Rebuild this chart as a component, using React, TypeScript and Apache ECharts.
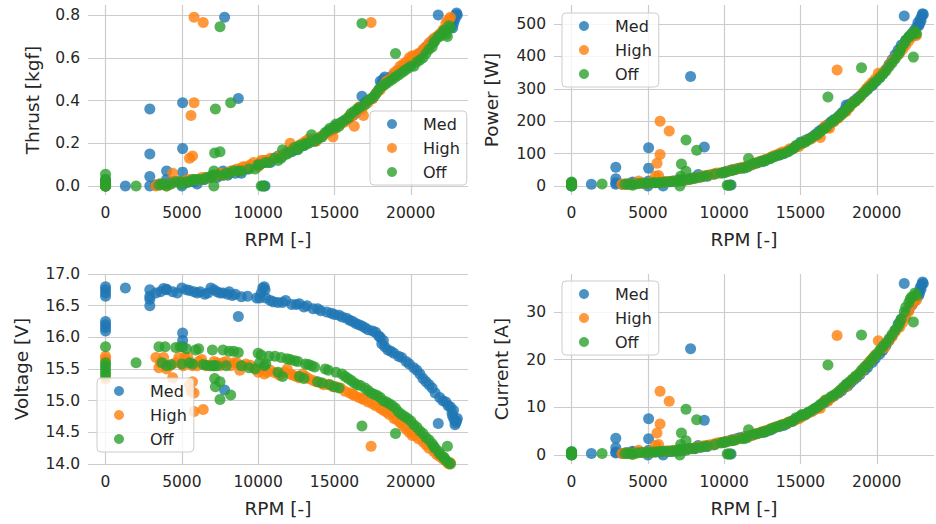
import React, { useEffect, useRef } from "react";
import * as echarts from "echarts";

// ---------- Data ----------
// each row: [RPM, thrust kgf, power W, voltage V, current A]
const seriesNames = ["Med", "High", "Off"];
const rpmTicks = [0, 5000, 10000, 15000, 20000];
const thrustTicks = [0, 0.2, 0.4, 0.6, 0.8];
const powerTicks = [0, 100, 200, 300, 400, 500];
const currentTicks = [0, 10, 20, 30];

const medRows = [
  [0, 0, 2, 16.8, 0.1], [0, 0.02, 8, 16.75, 0.5], [0, 0.01, 5, 16.7, 0.3], [0, 0, 0, 16.65, 0],
  [0, 0.03, 10, 16.25, 0.6], [0, 0.01, 4, 16.2, 0.2], [0, 0, 1, 16.15, 0.1], [0, 0.02, 6, 16.1, 0.4],
  [1300, 0, 5, 16.78, 0.3], [2900, 0, 5, 16.75, 0.4], [2900, 0.045, 10, 16.65, 0.6], [2900, 0.15, 22, 16.6, 1.5],
  [2900, 0.36, 58, 16.5, 3.5], [3600, 0.01, 6, 16.72, 0.5], [4000, 0.07, 12, 16.76, 0.8], [4000, 0.03, 8, 16.75, 0.6],
  [4400, 0.02, 8, 16.72, 0.6], [5000, 0, 0, 16.78, 0], [5050, 0.39, 118, 16.07, 7.6], [5050, 0.175, 55, 15.95, 3.4],
  [5050, 0.065, 15, 15.85, 1.0], [5500, 0.02, 10, 16.74, 0.6], [6000, 0.01, 0, 16.7, 0], [6200, 0.03, 12, 16.72, 0.7],
  [6700, 0.04, 15, 16.7, 0.8], [7100, 0.05, 16, 16.75, 0.9], [7300, 0.04, 17, 16.72, 1.0], [7800, 0.79, 338, 15.17, 22.3],
  [7700, 0.07, 22, 16.7, 1.3], [8000, 0.05, 25, 16.68, 1.4], [8300, 0.07, 35, 16.66, 2.0], [8700, 0.41, 120, 16.33, 7.3],
  [8900, 0.06, 30, 16.64, 1.8], [9900, 0.1, 40, 16.62, 2.6], [10200, 0.11, 45, 16.7, 2.9], [10300, 0, 2, 16.78, 0.2],
  [10450, 0, 3, 16.75, 0.2], [10500, 0.12, 50, 16.62, 3.2], [10800, 0.11, 52, 16.58, 3.4], [11300, 0.14, 58, 16.55, 3.8],
  [11800, 0.15, 65, 16.58, 4.1], [12200, 0.16, 72, 16.52, 4.5], [12700, 0.18, 78, 16.53, 4.8], [13200, 0.2, 90, 16.5, 5.5],
  [13600, 0.21, 95, 16.45, 5.9], [14100, 0.23, 105, 16.42, 6.5], [14500, 0.25, 115, 16.4, 7.1], [15000, 0.28, 135, 16.36, 8.2],
  [15500, 0.3, 145, 16.32, 8.9], [16000, 0.32, 160, 16.27, 9.8], [16400, 0.34, 175, 16.22, 10.7], [16800, 0.42, 190, 16.18, 11.5],
  [17200, 0.4, 205, 16.12, 12.4], [17700, 0.43, 225, 16.08, 13.5], [18000, 0.49, 250, 16.0, 14.8], [18100, 0.48, 245, 15.9, 14.5],
  [18300, 0.51, 255, 15.85, 15.2], [18700, 0.51, 270, 15.78, 16.3], [19200, 0.54, 290, 15.7, 17.8], [19700, 0.56, 310, 15.62, 19.4],
  [20200, 0.59, 335, 15.52, 21.2], [20600, 0.62, 360, 15.42, 23.0], [21000, 0.65, 390, 15.3, 25.0], [21400, 0.68, 420, 15.2, 27.5],
  [21800, 0.8, 525, 14.64, 36.0], [21900, 0.71, 450, 15.05, 29.5], [22300, 0.73, 470, 14.98, 31.5], [22600, 0.74, 490, 14.9, 33.0],
  [22700, 0.77, 505, 14.8, 34.0], [22850, 0.79, 515, 14.7, 35.2], [22950, 0.8, 525, 14.65, 35.8], [23000, 0.81, 532, 14.68, 36.3],
  [22900, 0.78, 510, 14.62, 34.8],
  [3300, 0.005, 5, 16.7, 0.3], [3800, 0.01, 7, 16.77, 0.4], [4700, 0.02, 9, 16.7, 0.5], [5300, 0.015, 10, 16.75, 0.6],
  [5800, 0.02, 11, 16.72, 0.6], [6500, 0.03, 13, 16.68, 0.7], [6900, 0.04, 15, 16.78, 0.8], [7500, 0.05, 18, 16.7, 1.0],
  [8100, 0.06, 24, 16.72, 1.3], [8500, 0.06, 28, 16.68, 1.6], [9300, 0.08, 36, 16.65, 2.1], [10100, 0.1, 42, 16.62, 2.7],
  [10400, 0.11, 47, 16.8, 3.0], [11000, 0.13, 55, 16.56, 3.6], [11600, 0.14, 62, 16.55, 4.0], [12500, 0.17, 75, 16.52, 4.7],
  [13000, 0.19, 85, 16.48, 5.2], [13900, 0.22, 100, 16.45, 6.2], [14800, 0.26, 125, 16.38, 7.6], [15300, 0.29, 140, 16.35, 8.5],
  [15800, 0.31, 152, 16.3, 9.3], [16200, 0.33, 168, 16.25, 10.2], [16600, 0.36, 182, 16.2, 11.0], [17000, 0.39, 198, 16.15, 12.0],
  [17500, 0.41, 215, 16.1, 13.0], [17900, 0.45, 235, 16.02, 14.2], [18200, 0.5, 250, 15.95, 15.0], [18500, 0.5, 262, 15.8, 15.8],
  [18900, 0.52, 278, 15.75, 16.9], [19400, 0.55, 298, 15.68, 18.4], [19900, 0.57, 322, 15.58, 20.2], [20400, 0.6, 348, 15.48, 22.0],
  [20800, 0.63, 375, 15.35, 24.0], [21200, 0.66, 405, 15.25, 26.2], [21600, 0.69, 435, 15.12, 28.5], [22100, 0.72, 460, 15.0, 30.5],
  [22450, 0.74, 480, 14.92, 32.2], [22800, 0.76, 500, 14.85, 34.0], [23050, 0.8, 530, 14.72, 36.0], [22750, 0.74, 495, 14.75, 33.5],
];

const highRows = [
  [0, 0, 2, 15.7, 0.1], [0, 0.01, 5, 15.65, 0.3], [0, 0.02, 4, 15.35, 0.2], [3300, 0, 5, 15.68, 0.3],
  [3500, 0.01, 6, 15.52, 0.4], [3800, 0.01, 7, 15.68, 0.4], [4000, 0, 5, 15.5, 0.3], [4400, 0.06, 15, 15.36, 1.0],
  [4800, 0.02, 8, 15.68, 0.5], [5100, 0.02, 10, 15.55, 0.6], [5400, 0.03, 12, 15.68, 0.7], [5500, 0.13, 30, 15.25, 2.0],
  [5600, 0.33, 70, 15.15, 4.6], [5700, 0.14, 32, 15.3, 2.2], [5800, 0.39, 97, 15.12, 6.5], [5800, 0.79, 200, 14.83, 13.4],
  [6000, 0.03, 12, 15.55, 0.8], [6400, 0.765, 170, 14.86, 11.3], [6300, 0.04, 14, 15.65, 0.9], [6800, 0.04, 15, 15.55, 1.0],
  [7100, 0.05, 18, 15.62, 1.1], [7500, 0.06, 20, 15.55, 1.2], [7900, 0.06, 22, 15.62, 1.4], [8400, 0.07, 28, 15.6, 1.7],
  [8800, 0.08, 32, 15.48, 2.0], [9200, 0.09, 36, 15.58, 2.2], [9500, 0.1, 40, 15.56, 2.5], [10000, 0.09, 42, 15.45, 2.7],
  [10400, 0.12, 48, 15.42, 3.0], [10800, 0.13, 52, 15.48, 3.3], [11400, 0.14, 60, 15.4, 3.8], [11900, 0.16, 68, 15.5, 4.2],
  [12100, 0.2, 72, 15.42, 4.5], [12500, 0.18, 78, 15.38, 4.9], [12900, 0.2, 85, 15.42, 5.3], [13300, 0.22, 95, 15.35, 5.8],
  [13800, 0.21, 105, 15.3, 6.4], [14300, 0.24, 115, 15.25, 7.0], [14900, 0.23, 122, 15.22, 7.6], [15400, 0.29, 140, 15.2, 8.6],
  [16000, 0.33, 155, 15.12, 9.6], [16300, 0.28, 150, 15.08, 9.8], [16600, 0.37, 185, 15.05, 11.5], [16900, 0.33, 178, 15.02, 11.8],
  [17400, 0.765, 358, 14.28, 25.1], [17500, 0.41, 210, 14.95, 13.2], [18000, 0.45, 230, 14.88, 14.5], [18400, 0.49, 255, 14.82, 15.8],
  [18900, 0.53, 275, 14.72, 17.2], [19300, 0.56, 300, 14.65, 18.8], [19700, 0.58, 320, 14.55, 20.2], [20100, 0.61, 348, 14.45, 24.0],
  [20500, 0.62, 355, 14.4, 22.5], [21000, 0.65, 385, 14.3, 24.8], [21500, 0.69, 410, 14.2, 26.8], [21900, 0.71, 435, 14.12, 29.0],
  [22300, 0.76, 460, 14.05, 31.5], [22500, 0.78, 470, 14.0, 33.0], [22600, 0.79, 465, 14.02, 32.5],
  [3600, 0.005, 5, 15.6, 0.3], [4200, 0.01, 7, 15.55, 0.4], [4600, 0.02, 8, 15.6, 0.5], [5200, 0.02, 9, 15.68, 0.6],
  [5700, 0.03, 11, 15.55, 0.7], [6100, 0.03, 13, 15.62, 0.8], [6600, 0.04, 15, 15.55, 0.9], [7300, 0.05, 17, 15.6, 1.1],
  [7700, 0.05, 20, 15.6, 1.3], [8200, 0.07, 25, 15.55, 1.6], [8600, 0.08, 30, 15.6, 1.9], [9000, 0.09, 34, 15.55, 2.1],
  [9700, 0.11, 40, 15.52, 2.6], [10200, 0.12, 45, 15.5, 2.9], [10600, 0.12, 50, 15.45, 3.1], [11100, 0.13, 56, 15.44, 3.5],
  [11700, 0.15, 64, 15.45, 4.0], [12300, 0.18, 75, 15.4, 4.6], [12700, 0.19, 82, 15.36, 5.1], [13100, 0.21, 90, 15.38, 5.6],
  [13600, 0.22, 100, 15.32, 6.1], [14100, 0.23, 108, 15.28, 6.7], [14600, 0.25, 118, 15.26, 7.3], [15100, 0.27, 130, 15.22, 8.0],
  [15700, 0.3, 145, 15.15, 9.0], [16200, 0.33, 160, 15.1, 10.0], [16800, 0.36, 180, 15.04, 11.3], [17200, 0.39, 198, 14.98, 12.4],
  [17700, 0.43, 220, 14.92, 13.8], [18200, 0.47, 242, 14.85, 15.2], [18600, 0.5, 262, 14.78, 16.4], [19100, 0.54, 288, 14.7, 18.0],
  [19500, 0.57, 310, 14.6, 19.5], [19900, 0.6, 330, 14.5, 21.0], [20300, 0.61, 345, 14.45, 22.3], [20800, 0.64, 372, 14.35, 24.0],
  [21200, 0.67, 395, 14.25, 25.8], [21700, 0.7, 422, 14.15, 27.8], [22100, 0.73, 448, 14.08, 30.2], [22400, 0.77, 465, 14.02, 32.5],
];

const offRows = [
  [0, 0.055, 12, 15.85, 0.7], [0, 0.03, 8, 15.6, 0.5], [0, 0.02, 5, 15.55, 0.3], [0, 0.01, 3, 15.5, 0.2],
  [0, 0, 0, 15.45, 0], [0, 0, 2, 15.4, 0.1], [2000, 0, 6, 15.6, 0.3], [3500, 0.005, 5, 15.85, 0.3],
  [3900, 0.01, 6, 15.85, 0.4], [4000, 0, 2, 15.55, 0.1], [4600, 0.02, 8, 15.84, 0.5], [5000, 0.01, 8, 15.58, 0.5],
  [5300, 0.02, 10, 15.82, 0.6], [5700, 0.03, 10, 15.58, 0.7], [6100, 0.03, 12, 15.82, 0.8], [6600, 0.04, 14, 15.56, 0.9],
  [7000, 0.05, 16, 15.8, 1.0], [7100, 0, 0, 15.55, 0], [7150, 0.155, 30, 15.35, 2.2], [7200, 0.36, 68, 15.22, 4.6],
  [7100, 0.07, 20, 15.55, 1.2], [7500, 0.745, 142, 15.02, 9.6], [7500, 0.16, 45, 15.3, 3.0], [7700, 0.05, 20, 15.8, 1.3],
  [8100, 0.06, 25, 15.78, 1.5], [8200, 0.39, 110, 15.09, 7.4], [8700, 0.07, 30, 15.76, 1.8], [9800, 0.08, 40, 15.5, 2.5],
  [10000, 0.1, 42, 15.75, 2.7], [10200, 0, 2, 15.72, 0.2], [10400, 0, 3, 15.55, 0.2], [10500, 0.11, 48, 15.58, 3.0],
  [11100, 0.13, 55, 15.7, 3.5], [11300, 0.12, 55, 15.45, 3.4], [11600, 0.17, 85, 15.38, 5.3], [11900, 0.15, 68, 15.66, 4.3],
  [12400, 0.18, 76, 15.63, 4.7], [12700, 0.19, 80, 15.38, 5.0], [13100, 0.2, 88, 15.58, 5.5], [13500, 0.24, 95, 15.55, 6.0],
  [13900, 0.22, 100, 15.3, 6.4], [14400, 0.25, 112, 15.5, 7.0], [14700, 0.27, 125, 15.25, 7.8], [15100, 0.29, 135, 15.45, 8.5],
  [15300, 0.28, 135, 15.2, 8.4], [15700, 0.31, 148, 15.38, 9.3], [16100, 0.34, 160, 15.32, 10.0], [16500, 0.36, 175, 15.25, 11.0],
  [16800, 0.76, 275, 14.6, 18.9], [17000, 0.38, 195, 15.2, 12.2], [17400, 0.41, 210, 15.12, 13.0], [17800, 0.44, 225, 15.08, 14.2],
  [18200, 0.47, 245, 15.0, 15.3], [18600, 0.49, 262, 14.95, 16.5], [19000, 0.62, 365, 14.48, 25.2], [19000, 0.51, 280, 14.88, 17.8],
  [19400, 0.53, 300, 14.78, 19.0], [19800, 0.55, 318, 14.72, 20.5], [20200, 0.56, 335, 14.62, 22.0], [20600, 0.59, 355, 14.52, 23.5],
  [21000, 0.62, 380, 14.42, 25.3], [21400, 0.65, 405, 14.32, 27.0], [21600, 0.68, 425, 14.25, 28.5], [21800, 0.7, 440, 14.2, 30.0],
  [22100, 0.72, 460, 14.12, 32.0], [22400, 0.7, 398, 14.28, 27.9], [22500, 0.75, 478, 14.02, 34.0], [22600, 0.74, 470, 14.0, 33.5],
  [3700, 0.01, 5, 15.6, 0.3], [4300, 0.01, 7, 15.57, 0.4], [4900, 0.02, 8, 15.85, 0.5], [5500, 0.02, 10, 15.6, 0.6],
  [5900, 0.03, 11, 15.8, 0.7], [6400, 0.03, 13, 15.57, 0.8], [6900, 0.04, 15, 15.55, 0.9], [7300, 0.05, 17, 15.55, 1.0],
  [7900, 0.06, 22, 15.55, 1.3], [8400, 0.07, 27, 15.78, 1.6], [8900, 0.07, 32, 15.55, 1.9], [9400, 0.08, 37, 15.52, 2.2],
  [10100, 0.1, 44, 15.6, 2.7], [10700, 0.11, 50, 15.7, 3.1], [11500, 0.13, 58, 15.68, 3.6], [12100, 0.16, 70, 15.65, 4.4],
  [12600, 0.17, 77, 15.62, 4.8], [13000, 0.19, 84, 15.35, 5.3], [13300, 0.2, 90, 15.57, 5.7], [13700, 0.21, 97, 15.53, 6.2],
  [14200, 0.23, 106, 15.28, 6.8], [14600, 0.26, 118, 15.48, 7.4], [15000, 0.27, 130, 15.22, 8.1], [15500, 0.3, 142, 15.42, 8.9],
  [15900, 0.32, 155, 15.35, 9.7], [16300, 0.35, 168, 15.28, 10.6], [16700, 0.37, 182, 15.24, 11.6], [17200, 0.4, 202, 15.16, 12.6],
  [17600, 0.42, 218, 15.1, 13.6], [18000, 0.46, 235, 15.05, 14.8], [18400, 0.48, 255, 14.98, 15.9], [18800, 0.5, 270, 14.92, 17.0],
  [19200, 0.52, 290, 14.82, 18.4], [19600, 0.54, 308, 14.75, 19.8], [20000, 0.56, 325, 14.68, 21.2], [20400, 0.58, 345, 14.58, 22.8],
  [20800, 0.6, 368, 14.48, 24.4], [21200, 0.64, 392, 14.38, 26.2], [21500, 0.67, 415, 14.28, 27.8], [21900, 0.7, 450, 14.16, 31.0],
  [22200, 0.73, 465, 14.1, 32.8], [22300, 0.71, 470, 14.06, 33.2],
];

// ---------- Styling ----------
const COLORS = ["#1f77b4", "#ff7f0e", "#2ca02c"];
const FONT = "DejaVu Sans";
const TEXT = "#262626";
const GRID_LINE = "#cccccc";
const TICK_SIZE = 15.5;
const NAME_SIZE = 18.5;

export default function App() {
  const ref = useRef<HTMLDivElement>(null);

  useEffect(() => {
    if (!ref.current) return;
    const chart = echarts.init(ref.current, null, { renderer: "svg" });

    const grids = [
      { left: 88, top: 5, width: 380, height: 190 },
      { left: 554, top: 5, width: 380, height: 190 },
      { left: 88, top: 274, width: 380, height: 190 },
      { left: 554, top: 274, width: 380, height: 190 },
    ];

    const xAxis = grids.map((_, i) => ({
      type: "value",
      gridIndex: i,
      min: -1150,
      max: 23750,
      name: "RPM [-]",
      nameLocation: "middle",
      nameGap: 35,
      nameTextStyle: { fontFamily: FONT, fontSize: NAME_SIZE, color: TEXT },
      axisLine: { show: false },
      axisTick: { show: false, customValues: rpmTicks },
      axisLabel: {
        customValues: rpmTicks,
        formatter: (v: number) => String(v),
        fontFamily: FONT,
        fontSize: TICK_SIZE,
        color: TEXT,
        margin: 10,
      },
      splitLine: { show: true, lineStyle: { color: GRID_LINE, width: 1.2 } },
    }));

    const yCommon = {
      type: "value",
      nameLocation: "middle",
      nameTextStyle: { fontFamily: FONT, fontSize: NAME_SIZE, color: TEXT },
      axisLine: { show: false },
      splitLine: { show: true, lineStyle: { color: GRID_LINE, width: 1.2 } },
    };
    const yLabel = { fontFamily: FONT, fontSize: TICK_SIZE, color: TEXT, margin: 8 };

    const yAxis = [
      {
        ...yCommon,
        gridIndex: 0,
        min: -0.042,
        max: 0.847,
        name: "Thrust [kgf]",
        nameGap: 46,
        axisTick: { show: false, customValues: thrustTicks },
        axisLabel: { ...yLabel, customValues: thrustTicks, formatter: (v: number) => v.toFixed(1) },
      },
      {
        ...yCommon,
        gridIndex: 1,
        min: -28,
        max: 559,
        name: "Power [W]",
        nameGap: 53,
        axisTick: { show: false, customValues: powerTicks },
        axisLabel: { ...yLabel, customValues: powerTicks },
      },
      {
        ...yCommon,
        gridIndex: 2,
        min: 14,
        max: 17,
        interval: 0.5,
        name: "Voltage [V]",
        nameGap: 57,
        axisTick: { show: false },
        axisLabel: { ...yLabel, formatter: (v: number) => v.toFixed(1) },
      },
      {
        ...yCommon,
        gridIndex: 3,
        min: -1.9,
        max: 38,
        name: "Current [A]",
        nameGap: 43,
        axisTick: { show: false, customValues: currentTicks },
        axisLabel: { ...yLabel, customValues: currentTicks },
      },
    ];

    const sets = [medRows, highRows, offRows];

    const series: any[] = [];
    for (let g = 0; g < 4; g++) {
      sets.forEach((rows, k) => {
        series.push({
          type: "scatter",
          name: seriesNames[k],
          xAxisIndex: g,
          yAxisIndex: g,
          symbol: "circle",
          symbolSize: 11,
          itemStyle: { color: COLORS[k], opacity: 0.8 },
          data: rows.map((r) => [r[0], r[g + 1]]),
          z: 2 + k,
        });
      });
    }

    const legendPos = [
      { left: 370, top: 111 },
      { left: 562, top: 13 },
      { left: 97, top: 378 },
      { left: 562, top: 281 },
    ];
    const legend = legendPos.map((p) => ({
      ...p,
      orient: "vertical",
      data: seriesNames,
      icon: "circle",
      itemWidth: 10,
      itemHeight: 10,
      itemGap: 6,
      padding: [4, 7, 4, 17],
      backgroundColor: "rgba(255,255,255,0.8)",
      borderColor: GRID_LINE,
      borderWidth: 1,
      borderRadius: 4,
      selectedMode: false,
      textStyle: {
        fontFamily: FONT,
        fontSize: 16,
        color: TEXT,
        lineHeight: 18,
        padding: [0, 0, 0, 21],
      },
      z: 10,
    }));

    chart.setOption({
      animation: false,
      backgroundColor: "#ffffff",
      textStyle: { fontFamily: FONT },
      grid: grids,
      xAxis,
      yAxis,
      legend,
      series,
    });

    return () => chart.dispose();
  }, []);

  return (
    <div
      ref={ref}
      style={{ position: "fixed", left: 0, top: 0, width: 936, height: 524 }}
    />
  );
}
